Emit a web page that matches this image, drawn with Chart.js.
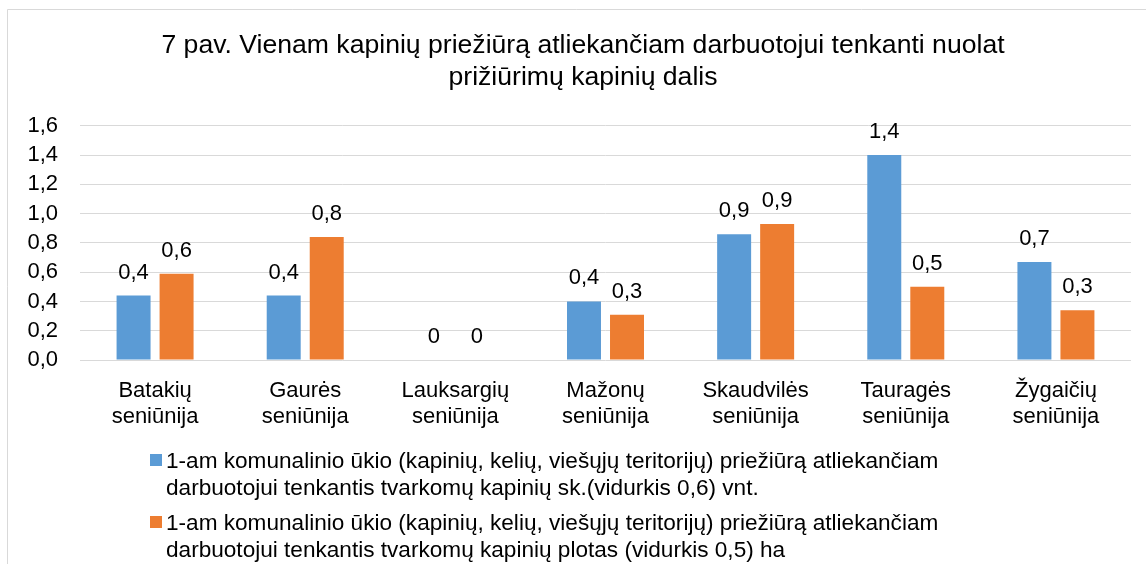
<!DOCTYPE html>
<html>
<head>
<meta charset="utf-8">
<script src="https://cdn.jsdelivr.net/npm/chart.js@4"></script>
<style>
  html, body { margin: 0; padding: 0; background: #fff; overflow: hidden; }
  #wrap { width: 1146px; height: 564px; }
</style>
</head>
<body>
<div id="wrap"><canvas id="kapinesChart"></canvas></div>
<script>
// data
const categories = [
  ['Batakių', 'seniūnija'],
  ['Gaurės', 'seniūnija'],
  ['Lauksargių', 'seniūnija'],
  ['Mažonų', 'seniūnija'],
  ['Skaudvilės', 'seniūnija'],
  ['Tauragės', 'seniūnija'],
  ['Žygaičių', 'seniūnija']
];
const kapiniuSk = [0.44, 0.44, 0, 0.40, 0.86, 1.40, 0.67];
const kapiniuPlotas = [0.59, 0.84, 0, 0.31, 0.93, 0.50, 0.34];
const seriesNames = [
  ['1-am komunalinio ūkio (kapinių, kelių, viešųjų teritorijų) priežiūrą atliekančiam',
   'darbuotojui tenkantis tvarkomų kapinių sk.(vidurkis 0,6) vnt.'],
  ['1-am komunalinio ūkio (kapinių, kelių, viešųjų teritorijų) priežiūrą atliekančiam',
   'darbuotojui tenkantis tvarkomų kapinių plotas (vidurkis 0,5) ha']
];
const yTicks = [0, 0.2, 0.4, 0.6, 0.8, 1.0, 1.2, 1.4, 1.6];
const titleLines = ['7 pav. Vienam kapinių priežiūrą atliekančiam darbuotojui tenkanti nuolat',
  'prižiūrimų kapinių dalis'];

const colors = ['#5B9BD5', '#ED7D31'];
const fontName = '"Liberation Sans", Arial, sans-serif';

function fmt(v) {
  if (v === 0) return '0';
  return v.toFixed(1).replace('.', ',');
}

// frame + value labels + legend
const extras = {
  id: 'extras',
  beforeDraw(chart) {
    const c = chart.ctx;
    c.save();
    c.fillStyle = '#fff';
    c.fillRect(0, 0, chart.width, chart.height);
    c.strokeStyle = '#d9d9d9';
    c.lineWidth = 1;
    c.beginPath();
    c.moveTo(7.5, chart.height);
    c.lineTo(7.5, 9.5);
    c.lineTo(chart.width, 9.5);
    c.stroke();
    c.restore();
  },
  afterDatasetsDraw(chart) {
    const c = chart.ctx;
    c.save();
    c.font = '22px ' + fontName;
    c.fillStyle = '#000';
    c.textAlign = 'center';
    c.textBaseline = 'alphabetic';
    chart.data.datasets.forEach((ds, i) => {
      chart.getDatasetMeta(i).data.forEach((bar, j) => {
        c.fillText(fmt(ds.data[j]), bar.x, bar.y - 17);
      });
    });
    c.restore();
  },
  afterDraw(chart) {
    const c = chart.ctx;
    const base = chart.scales.x.bottom + 38;
    c.save();
    c.font = '22.6px ' + fontName;
    c.textAlign = 'left';
    c.textBaseline = 'alphabetic';
    seriesNames.forEach((lines, i) => {
      const y = base + i * 62;
      c.fillStyle = colors[i];
      c.fillRect(150, y - 14, 12, 12);
      c.fillStyle = '#000';
      lines.forEach((t, k) => c.fillText(t, 166, y + k * 27));
    });
    c.restore();
  }
};

const ctx = document.getElementById('kapinesChart').getContext('2d');
const kapinesChart = new Chart(ctx, {
  type: 'bar',
  data: {
    labels: categories,
    datasets: [
      { label: seriesNames[0].join(' '), data: kapiniuSk, backgroundColor: colors[0] },
      { label: seriesNames[1].join(' '), data: kapiniuPlotas, backgroundColor: colors[1] }
    ]
  },
  plugins: [extras],
  options: {
    responsive: true,
    maintainAspectRatio: false,
    animation: false,
    categoryPercentage: 0.573,
    barPercentage: 0.79,
    // left padding only moves the title centre; the y labels hang out of it
    layout: { padding: { left: 35, right: 15, top: 0, bottom: 134 } },
    plugins: {
      legend: { display: false },
      tooltip: { enabled: false },
      title: {
        display: true,
        text: titleLines,
        color: '#000',
        font: { family: fontName, size: 26.6, weight: 'normal', lineHeight: 1.2 },
        padding: { top: 30, bottom: 32 }
      }
    },
    scales: {
      x: {
        grid: { display: false, drawTicks: false },
        border: { display: false },
        ticks: {
          color: '#000',
          padding: 18,
          maxRotation: 0,
          autoSkip: false,
          font: { family: fontName, size: 22, lineHeight: 1.18 }
        },
        afterFit(scale) { scale.height = 70; }
      },
      y: {
        min: 0,
        max: 1.6,
        afterBuildTicks(scale) { scale.ticks = yTicks.map(v => ({ value: v })); },
        grid: { color: '#d9d9d9', lineWidth: 1, drawTicks: false },
        border: { display: false },
        ticks: {
          color: '#000',
          padding: 22,
          autoSkip: false,
          font: { family: fontName, size: 22 },
          callback: v => v.toFixed(1).replace('.', ',')
        },
        afterFit(scale) {
          scale.width = 45;
          scale._computeLabelArea = () => null; // don't clip labels to the narrow box
        }
      }
    }
  }
});
</script>
</body>
</html>
